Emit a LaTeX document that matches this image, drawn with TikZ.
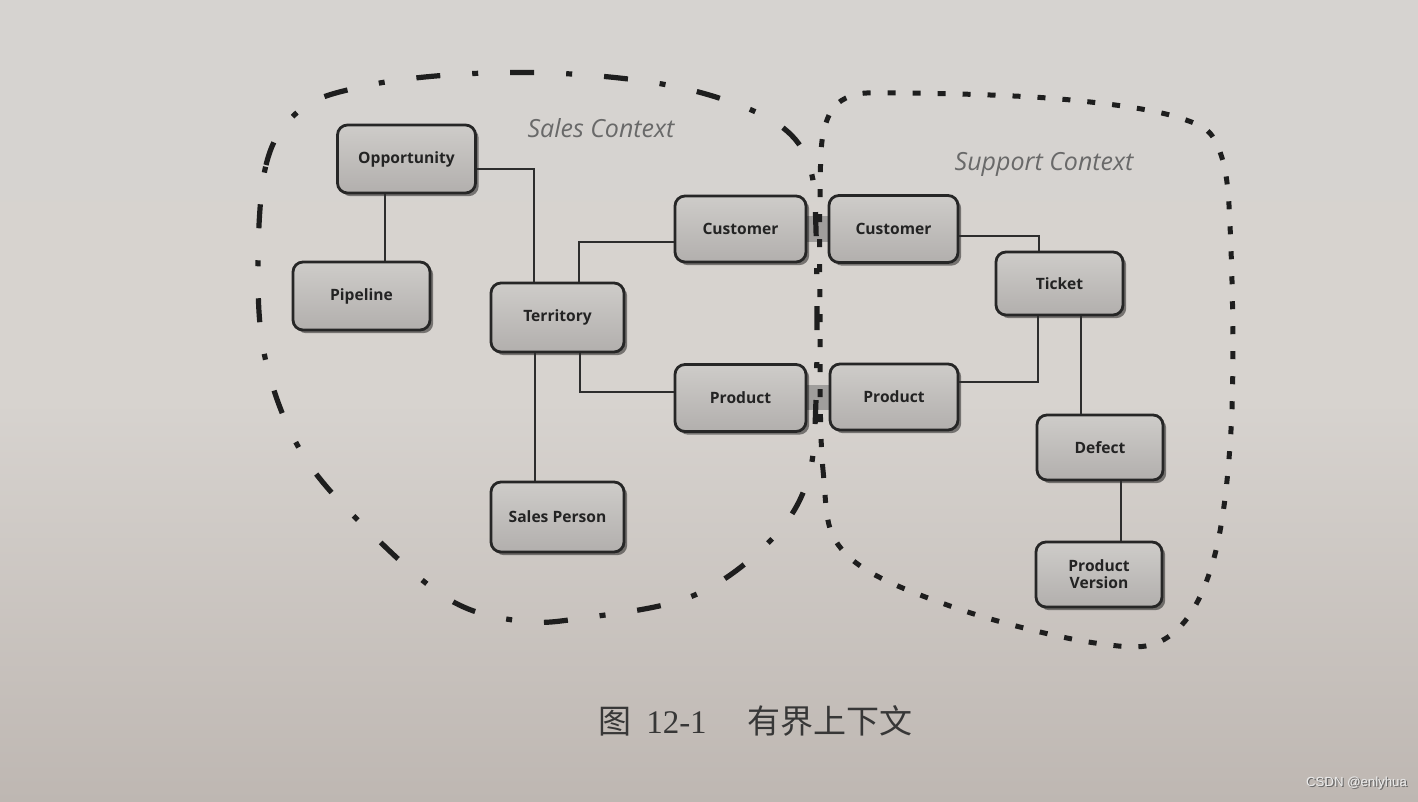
\documentclass[tikz,border=0pt]{standalone}
\usepackage{fontspec}
\newfontfamily\osans{Open Sans}
\newfontfamily\cjk{Noto Sans CJK SC}
\newfontfamily\lserif{Liberation Serif}
\newfontfamily\lsans{Liberation Sans}
\usetikzlibrary{shadows,calc}
\pgfdeclarelayer{bg}
\pgfsetlayers{bg,main}
\definecolor{papertop}{RGB}{214,211,208}
\definecolor{papermid}{RGB}{215,211,207}
\definecolor{paperbot}{RGB}{190,183,178}
\definecolor{boxtop}{RGB}{206,204,201}
\definecolor{boxbot}{RGB}{178,175,173}
\definecolor{boxline}{RGB}{38,38,38}
\definecolor{connline}{RGB}{45,45,45}
\definecolor{bound}{RGB}{30,30,30}
\definecolor{barfill}{RGB}{160,158,156}
\definecolor{ctxgray}{RGB}{105,105,105}
\definecolor{textdark}{RGB}{35,35,35}
\definecolor{captext}{RGB}{55,55,55}
\begin{document}
\begin{tikzpicture}[x=0.5pt,y=-0.5pt,
  entity/.style={draw=boxline, line width=1.4pt, rounded corners=5pt,
    top color=boxtop, bottom color=boxbot, inner sep=0pt,
    font=\osans\bfseries\fontsize{7.8}{9.5}\selectfont, text=textdark, align=center,
    drop shadow={shadow xshift=1.6pt, shadow yshift=-1.6pt, opacity=0.45, fill=black}},
  conn/.style={draw=connline, line width=1pt},
  salesb/.style={draw=bound, line width=2.6pt, dash pattern=on 12pt off 16pt on 3pt off 16pt},
  supportb/.style={draw=bound, line width=2.5pt, dash pattern=on 4pt off 8.5pt},
  linkbar/.style={fill=barfill, draw=none},
  ctx/.style={font=\osans\itshape\fontsize{12.5}{15}\selectfont, text=ctxgray},
]
\useasboundingbox (0,0) rectangle (1418,802);
\begin{pgfonlayer}{bg}
  \shade[top color=papertop, bottom color=paperbot, middle color=papermid] (0,0) rectangle (1418,802);
\end{pgfonlayer}

% boundaries
\draw[salesb] plot[smooth cycle, tension=0.6] coordinates {
  (258,280) (266,165) (300,110) (360,87) (448,75) (550,73) (650,82) (725,100)
  (782,127) (809,165) (816,230) (816,400) (806,485) (765,546) (690,597)
  (583,618) (520,621) (450,600) (372,534) (305,458) (268,370)};
\draw[supportb] plot[smooth cycle, tension=0.6] coordinates {
  (820,300) (823,470) (845,553) (950,606) (1095,643) (1168,637) (1212,565)
  (1231,430) (1231,250) (1220,152) (1180,118) (1060,99) (900,93) (846,98)
  (824,130) (820,200)};

% entities
\node[entity, minimum width=69pt, minimum height=34pt] (opp) at (406.5,159) {Opportunity};
\node[entity, minimum width=68.5pt, minimum height=34pt] (pipe) at (361.5,296) {Pipeline};
\node[entity, minimum width=66.5pt, minimum height=34.5pt] (terr) at (557.5,317.5) {Territory};
\node[entity, minimum width=66.5pt, minimum height=35pt] (salesp) at (557.5,517) {Sales Person};
\node[entity, minimum width=65.5pt, minimum height=33pt] (custL) at (740.5,229) {Customer};
\node[entity, minimum width=65.5pt, minimum height=33.5pt] (prodL) at (740.5,398) {Product};
\node[entity, minimum width=64.5pt, minimum height=33.5pt] (custR) at (893.5,229) {Customer};
\node[entity, minimum width=64pt, minimum height=33pt] (prodR) at (894,397) {Product};
\node[entity, minimum width=63.5pt, minimum height=31.5pt] (ticket) at (1059.5,283.5) {Ticket};
\node[entity, minimum width=63pt, minimum height=32.5pt] (defect) at (1100,447.5) {Defect};
\node[entity, minimum width=63pt, minimum height=32.5pt] (pver) at (1099,574.5) {Product\\[-1pt]Version};

% shared-kernel bars
\begin{pgfonlayer}{bg}
  \fill[linkbar] ($(custL.east)+(-4,-13)$) rectangle ($(custR.west)+(4,13)$);
  \fill[linkbar] ($(prodL.east)+(-4,-13)$) rectangle ($(prodR.west)+(4,13)$);
\end{pgfonlayer}

% connectors
\draw[conn] ($(opp.south)+(-21.5,0)$) -- ($(opp.south |- pipe.north)+(-21.5,0)$);
\draw[conn] ($(opp.east)+(0,10)$) -| ($(terr.north)+(-24,0)$);
\draw[conn] ($(terr.north)+(21.5,0)$) |- ($(custL.west)+(0,13)$);
\draw[conn] ($(terr.south)+(22,0)$) |- ($(prodL.west)+(0,-6)$);
\draw[conn] ($(terr.south)+(-22.5,0)$) -- ($(terr.south |- salesp.north)+(-22.5,0)$);
\draw[conn] ($(custR.east)+(0,7)$) -| ($(ticket.north)+(-20.5,0)$);
\draw[conn] ($(ticket.south)+(-21.5,0)$) |- ($(prodR.east)+(0,-15)$);
\draw[conn] ($(ticket.south)+(21.5,0)$) -- ($(ticket.south |- defect.north)+(21.5,0)$);
\draw[conn] ($(defect.south)+(21,0)$) -- ($(defect.south |- pver.north)+(21,0)$);

% context titles
\node[ctx] (salesctx) at (601,128) {Sales Context};
\node[ctx] (supctx) at (1044,164) {Support Context};

% caption
\node[text=captext, anchor=west, inner sep=0pt] (cap) at (598,721)
  {\cjk\fontsize{16.5}{18}\selectfont 图\hspace{0.45em}{\lserif 12-1}\hspace{1.25em}有界上下文};

% watermark
\node[text=black!60, font=\lsans\fontsize{6.6}{8}\selectfont, inner sep=0pt] (wm0) at (1357.8,784.2) {CSDN @enlyhua};
\node[text=white!92!black, font=\lsans\fontsize{6.6}{8}\selectfont, inner sep=0pt] (wm) at (1356.5,783) {CSDN @enlyhua};
\end{tikzpicture}
\end{document}
